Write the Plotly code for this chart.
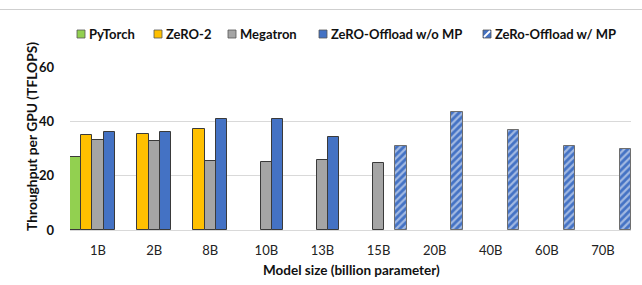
import plotly.graph_objects as go

categories = ["1B", "2B", "8B", "10B", "13B", "15B", "20B", "40B", "60B", "70B"]
pytorch = [27.0, None, None, None, None, None, None, None, None, None]
zero2 = [35.0, 35.4, 37.0, None, None, None, None, None, None, None]
megatron = [33.3, 32.8, 25.5, 25.0, 25.6, 24.6, None, None, None, None]
offload_no_mp = [36.0, 35.9, 41.0, 41.0, 34.4, None, None, None, None, None]
offload_mp = [None, None, None, None, None, 30.9, 43.5, 36.8, 30.9, 30.0]
series_names = ["PyTorch", "ZeRO-2", "Megatron", "ZeRO-Offload w/o MP", "ZeRo-Offload w/ MP"]
y_ticks = [0, 20, 40, 60]

colors = ["#92D050", "#FFC000", "#A5A5A5", "#4472C4", "#4472C4"]
FONT = "Lato"

fig = go.Figure()
for name, vals, col in zip(series_names[:4], [pytorch, zero2, megatron, offload_no_mp], colors[:4]):
    fig.add_trace(go.Bar(x=categories, y=vals, name=name,
                         marker=dict(color=col, line=dict(color="#3A3A3A", width=1))))
fig.add_trace(go.Bar(x=categories, y=offload_mp, name=series_names[4],
                     marker=dict(color="#4472C4", line=dict(color="#6E6E6E", width=1),
                                 pattern=dict(shape="/", fgcolor="white", bgcolor="#4472C4",
                                              fillmode="overlay", size=5, solidity=0.45))))

# plot area geometry in px (for legend placement)
L, R, T, B = 70, 631, 67, 230
W, H = R - L, B - T
def px(x):
    return (x - L) / W
def py(y):
    return (B - y) / H

shapes = []
annotations = []
leg_sq = [77, 154, 228, 319, 483]
for i, (name, col, x0) in enumerate(zip(series_names, colors, leg_sq)):
    shapes.append(dict(type="rect", xref="paper", yref="paper",
                       x0=px(x0), x1=px(x0 + 8), y0=py(38), y1=py(30),
                       fillcolor=col, line=dict(color="#555555", width=0.8)))
    if i == 4:
        shapes.append(dict(type="line", xref="paper", yref="paper",
                           x0=px(x0 + 1), x1=px(x0 + 7), y0=py(37), y1=py(31),
                           line=dict(color="white", width=1.8)))
    annotations.append(dict(text=f"<b>{name}</b>", xref="paper", yref="paper",
                            x=px(x0 + 10), y=py(34), xanchor="left", yanchor="middle",
                            showarrow=False, font=dict(size=13, color="#111111", family=FONT)))

# top border line
shapes.append(dict(type="line", xref="paper", yref="paper", x0=px(0), x1=px(642),
                   y0=py(9.5), y1=py(9.5), line=dict(color="#CFCFCF", width=1.2)))

annotations.append(dict(text="<b>Throughput per GPU (TFLOPS)</b>", xref="paper", yref="paper",
                        x=px(31), y=py(137), textangle=-90, showarrow=False,
                        xanchor="center", yanchor="middle",
                        font=dict(size=13.8, color="#111111", family=FONT)))
annotations.append(dict(text="<b>Model size (billion parameter)</b>", xref="paper", yref="paper",
                        x=px(351), y=py(270), showarrow=False,
                        xanchor="center", yanchor="middle",
                        font=dict(size=13.5, color="#111111", family=FONT)))

fig.update_layout(
    width=642, height=285,
    margin=dict(l=L, r=642 - R, t=T, b=285 - B),
    paper_bgcolor="white", plot_bgcolor="white",
    barmode="group", bargap=0, bargroupgap=0,
    showlegend=False,
    shapes=shapes, annotations=annotations,
    font=dict(family=FONT, color="#111111"),
)
fig.update_xaxes(type="category", showline=False, showgrid=False, ticks="",
                 tickfont=dict(size=13, family=FONT, color="#222222"),
                 ticklabelstandoff=11)
fig.update_yaxes(range=[0, 60], tickvals=y_ticks, ticktext=[f"<b>{v}</b>" for v in y_ticks],
                 showgrid=True, gridcolor="#D9D9D9", gridwidth=1,
                 zeroline=True, zerolinecolor="#D9D9D9", zerolinewidth=1,
                 showline=False, ticks="", ticklabelstandoff=15,
                 tickfont=dict(size=13, family=FONT, color="#111111"))

fig.write_html("out.html", config={"displayModeBar": False},
               post_script="document.body.style.margin='0';")
